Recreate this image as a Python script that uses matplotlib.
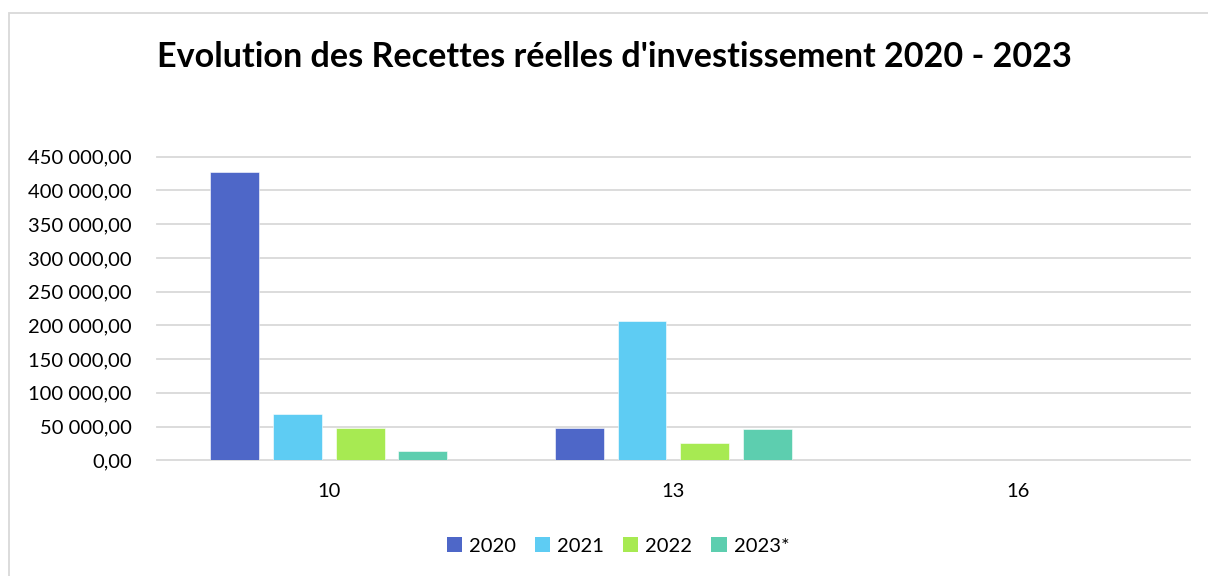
import matplotlib
matplotlib.use("Agg")
import matplotlib.pyplot as plt
import numpy as np
from matplotlib.patches import Rectangle, Patch
from matplotlib.ticker import FuncFormatter, MultipleLocator

plt.rcParams['font.family'] = ['Lato', 'DejaVu Sans']

# Data
categories = ["10", "13", "16"]
years = ["2020", "2021", "2022", "2023*"]
values_2020 = [427000, 47300, 0]
values_2021 = [68000, 206500, 0]
values_2022 = [48300, 26100, 0]
values_2023 = [13300, 45800, 0]
colors = ["#4E67C8", "#5ECCF3", "#A7EA52", "#5DCEAF"]
title = "Evolution des Recettes réelles d'investissement 2020 - 2023"

series = [values_2020, values_2021, values_2022, values_2023]

W, H = 1208, 576
fig = plt.figure(figsize=(W / 100, H / 100), dpi=100)
fig.patch.set_facecolor("white")

# chart area border (left and top edges visible)
fig.patches.append(Rectangle((8.5 / W, -0.2), (1220 - 8.5) / W, 1.2 - 12.5 / H,
                             transform=fig.transFigure, fill=False,
                             edgecolor="#D9D9D9", linewidth=1.3))

ax = fig.add_axes([156.7 / W, 1 - 460.3 / H, (1190 - 156.7) / W, (460.3 - 156.7) / H])

x = np.arange(len(categories))
step = 0.182
width = 0.142
for i, (vals, col, lab) in enumerate(zip(series, colors, years)):
    ax.bar(x + (i - 1.5) * step, vals, width=width, color=col, label=lab,
           edgecolor="white", linewidth=0.4, zorder=3)

ax.set_xlim(-0.5, len(categories) - 0.5)
ax.set_ylim(0, 450000)
ax.yaxis.set_major_locator(MultipleLocator(50000))
ax.yaxis.set_major_formatter(FuncFormatter(
    lambda v, p: f"{v:,.2f}".replace(",", " ").replace(".", ",")))
ax.set_xticks(x)
ax.set_xticklabels(categories)

ax.yaxis.grid(True, color="#D9D9D9", linewidth=1.3, zorder=0)
for gl in ax.get_ygridlines():
    gl.set_clip_on(False)
ax.set_axisbelow(True)
for s in ax.spines.values():
    s.set_visible(False)
ax.tick_params(axis="both", length=0, labelsize=14.5, colors="#000000")
ax.tick_params(axis="y", pad=18)
ax.tick_params(axis="x", pad=16)

fig.text(614 / W, 1 - 67 / H, title, ha="center", va="baseline",
         fontsize=24.6, fontweight="bold", color="#000000")

handles = [Patch(facecolor=c, edgecolor="none") for c in colors]
fig.legend(handles, years, loc="center", bbox_to_anchor=(618 / W, 1 - 546 / H),
           ncol=4, frameon=False, fontsize=14.5, handlelength=0.75, handleheight=0.75,
           handletextpad=0.35, columnspacing=0.95)

fig.savefig("out.png", dpi=100, facecolor="white")
